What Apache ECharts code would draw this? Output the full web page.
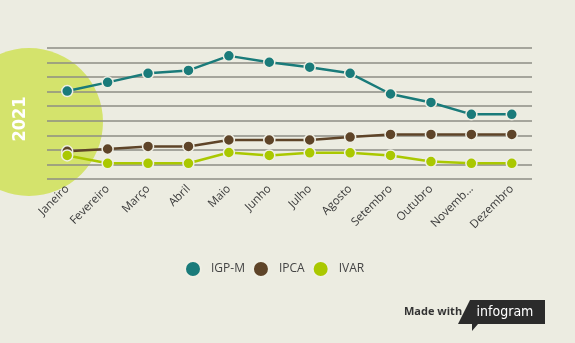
<!DOCTYPE html>
<html>
<head>
<meta charset="utf-8">
<script src="https://cdn.jsdelivr.net/npm/echarts@6/dist/echarts.min.js"></script>
<style>
html,body{margin:0;padding:0;background:#ecece1;}
#c{width:575px;height:343px;}
</style>
</head>
<body>
<div id="c"></div>
<script>
const categories = ['Janeiro','Fevereiro','Março','Abril','Maio','Junho','Julho','Agosto','Setembro','Outubro','Novembro','Dezembro'];
const igpm = [30.2, 33.2, 36.3, 37.3, 42.3, 40.1, 38.4, 36.3, 29.2, 26.3, 22.2, 22.2];
const ipca = [9.5, 10.3, 11.2, 11.2, 13.4, 13.4, 13.4, 14.4, 15.3, 15.3, 15.3, 15.3];
const ivar = [8.1, 5.4, 5.4, 5.4, 9.1, 8.1, 9.0, 9.0, 8.1, 6.0, 5.4, 5.4];
const yearLabel = '2021';

const chart = echarts.init(document.getElementById('c'), null, {renderer:'canvas'});
function mk(name, data, color){
  return {
    name, type:'line', data, symbol:'circle', symbolSize:11,
    lineStyle:{color, width:2.5},
    itemStyle:{color, borderColor:'#efefe4', borderWidth:1.5},
    emphasis:{disabled:true}
  };
}
chart.setOption({
  backgroundColor:'#ecece1',
  animation:false,
  grid:{left:47, right:43, top:48, bottom:164},
  xAxis:{
    type:'category', data:categories, boundaryGap:true,
    axisLine:{show:false}, axisTick:{show:false},
    axisLabel:{rotate:45, fontSize:11.5, color:'#3a3a3a', fontFamily:'Open Sans', margin:8,
      interval:0,
      formatter:v => v === 'Novembro' ? 'Novemb...' : v}
  },
  yAxis:{
    type:'value', min:0, max:45, interval:5,
    axisLabel:{show:false}, axisLine:{show:false}, axisTick:{show:false},
    splitLine:{lineStyle:{color:'#8e8e84', width:1.5}}
  },
  legend:{
    data:['IGP-M','IPCA','IVAR'], bottom:60, left:179,
    icon:'circle', itemWidth:16, itemHeight:16, itemGap:7,
    textStyle:{fontSize:12, color:'#444', fontFamily:'Open Sans', padding:[0,0,0,5]}
  },
  graphic:[
    {type:'circle', shape:{cx:29, cy:122, r:74}, style:{fill:'#d4e36c'}, z:-10, silent:true},
    {type:'text', x:20, y:119, rotation:Math.PI/2, z:-9,
      style:{text:yearLabel, fill:'#fff', font:'bold 18px "DejaVu Sans Condensed"', align:'center', verticalAlign:'middle'}},
    {type:'text', x:404, y:312, style:{text:'Made with', fill:'#333', font:'bold 11px "Open Sans"', verticalAlign:'middle'}},
    {type:'polygon', shape:{points:[[470,300],[545,300],[545,324],[478,324],[472,331],[472,324],[458,324]]}, style:{fill:'#2b2b2b'}},
    {type:'text', x:505, y:312, style:{text:'infogram', fill:'#fff', font:'14px "DejaVu Sans Condensed"', align:'center', verticalAlign:'middle'}}
  ],
  series:[
    mk('IGP-M', igpm, '#1a7b7a'),
    mk('IPCA', ipca, '#5e4428'),
    mk('IVAR', ivar, '#aac800')
  ]
});
</script>
</body>
</html>
